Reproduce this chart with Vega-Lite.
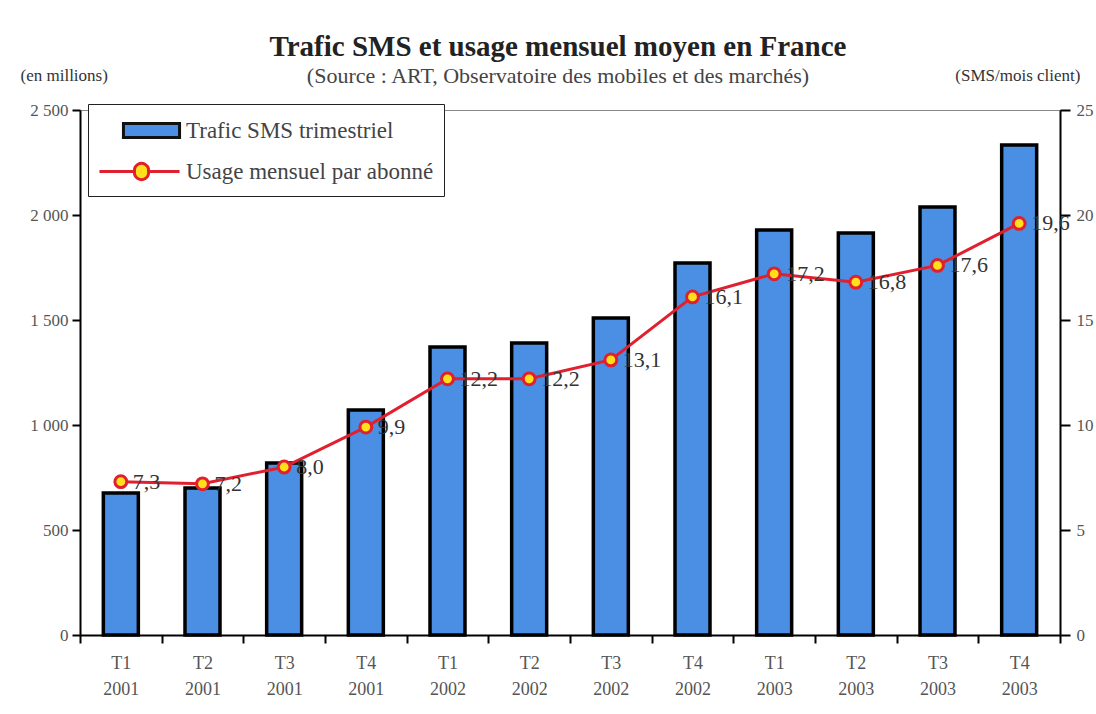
{
  "$schema": "https://vega.github.io/schema/vega-lite/v6.json",
  "width": 980,
  "height": 525,
  "autosize": {"type": "none"},
  "padding": {"left": 80, "top": 110, "right": 36, "bottom": 79},
  "background": "white",
  "title": {
    "text": "Trafic SMS et usage mensuel moyen en France",
    "subtitle": "(Source : ART, Observatoire des mobiles et des marchés)",
    "font": "Liberation Serif",
    "fontSize": 29,
    "fontWeight": "bold",
    "color": "#222222",
    "subtitleFont": "Liberation Serif",
    "subtitleFontSize": 22,
    "subtitleColor": "#444444",
    "subtitlePadding": 4,
    "offset": -21,
    "dx": -12,
    "frame": "group",
    "anchor": "middle"
  },
  "config": {
    "locale": {"number": {"decimal": ",", "thousands": " ", "grouping": [3], "currency": ["", " €"]}},
    "view": {"fill": "#edf0f3", "stroke": "#8a8a8a", "strokeWidth": 1}
  },
  "datasets": {
    "main": [
      {"q": "T1 2001", "trafic": 676, "usage": 7.3},
      {"q": "T2 2001", "trafic": 700, "usage": 7.2},
      {"q": "T3 2001", "trafic": 819, "usage": 8.0},
      {"q": "T4 2001", "trafic": 1071, "usage": 9.9},
      {"q": "T1 2002", "trafic": 1371, "usage": 12.2},
      {"q": "T2 2002", "trafic": 1390, "usage": 12.2},
      {"q": "T3 2002", "trafic": 1510, "usage": 13.1},
      {"q": "T4 2002", "trafic": 1771, "usage": 16.1},
      {"q": "T1 2003", "trafic": 1929, "usage": 17.2},
      {"q": "T2 2003", "trafic": 1914, "usage": 16.8},
      {"q": "T3 2003", "trafic": 2038, "usage": 17.6},
      {"q": "T4 2003", "trafic": 2333, "usage": 19.6}
    ],
    "leg": [
      {"serie": "Trafic SMS trimestriel"},
      {"serie": "Usage mensuel par abonné"}
    ]
  },
  "data": {"name": "main"},
  "layer": [
    {
      "mark": {"type": "bar", "size": 35, "fill": "#4a8fe3", "stroke": "black", "strokeWidth": 3.5},
      "encoding": {
        "x": {
          "field": "q",
          "type": "nominal",
          "sort": null,
          "scale": {"paddingInner": 0, "paddingOuter": 0},
          "axis": {
            "title": null,
            "labelAngle": 0,
            "labelExpr": "split(datum.label, ' ')",
            "labelFont": "Liberation Serif",
            "labelFontSize": 18,
            "labelColor": "#555555",
            "labelLineHeight": 26,
            "labelPadding": 11,
            "tickBand": "extent",
            "tickColor": "black",
            "tickWidth": 2,
            "tickSize": 8,
            "domainColor": "black",
            "domainWidth": 2,
            "grid": false
          }
        },
        "y": {
          "field": "trafic",
          "type": "quantitative",
          "scale": {"domain": [0, 2500], "nice": false},
          "axis": {
            "title": "(en millions)",
            "titleAngle": 0,
            "titleX": -60,
            "titleY": -35,
            "titleAlign": "left",
            "titleBaseline": "middle",
            "titleFont": "Liberation Serif",
            "titleFontSize": 17,
            "titleFontWeight": "normal",
            "titleColor": "#333333",
            "values": [0, 500, 1000, 1500, 2000, 2500],
            "format": ",.0f",
            "labelFont": "Liberation Serif",
            "labelFontSize": 17,
            "labelColor": "#555555",
            "labelPadding": 4,
            "domainColor": "black",
            "domainWidth": 2,
            "tickColor": "black",
            "tickWidth": 2,
            "tickSize": 8,
            "grid": false
          }
        }
      }
    },
    {
      "encoding": {
        "x": {"field": "q", "type": "nominal", "sort": null},
        "y": {
          "field": "usage",
          "type": "quantitative",
          "scale": {"domain": [0, 25], "nice": false},
          "axis": {
            "orient": "right",
            "title": "(SMS/mois client)",
            "titleAngle": 0,
            "titleX": 20,
            "titleY": -35,
            "titleAlign": "right",
            "titleBaseline": "middle",
            "titleFont": "Liberation Serif",
            "titleFontSize": 17,
            "titleFontWeight": "normal",
            "titleColor": "#333333",
            "values": [0, 5, 10, 15, 20, 25],
            "labelFont": "Liberation Serif",
            "labelFontSize": 17,
            "labelColor": "#555555",
            "labelPadding": 6,
            "domainColor": "black",
            "domainWidth": 2,
            "tickColor": "black",
            "tickWidth": 2,
            "tickSize": 10,
            "grid": false
          }
        }
      },
      "layer": [
        {
          "mark": {"type": "line", "strokeWidth": 3, "color": "#e0202e"}
        },
        {
          "mark": {"type": "point", "filled": true, "fill": "#ffe01a", "stroke": "#e0202e", "strokeWidth": 3, "size": 140, "opacity": 1}
        },
        {
          "mark": {"type": "text", "align": "left", "baseline": "middle", "dx": 12, "font": "Liberation Serif", "fontSize": 22, "color": "#333333"},
          "encoding": {"text": {"field": "usage", "type": "quantitative", "format": ".1f"}}
        }
      ]
    },
    {
      "data": {"name": "leg"},
      "mark": {"type": "point", "filled": true, "opacity": 0, "strokeWidth": 3},
      "encoding": {
        "fill": {
          "field": "serie",
          "type": "nominal",
          "sort": null,
          "scale": {"domain": ["Trafic SMS trimestriel", "Usage mensuel par abonné"], "range": ["#4a8fe3", "#ffe01a"]},
          "legend": {
            "title": null,
            "orient": "none",
            "legendX": 8,
            "legendY": -6,
            "direction": "vertical",
            "fillColor": "white",
            "strokeColor": "#222222",
            "padding": 10,
            "labelFont": "Liberation Serif",
            "labelFontSize": 23,
            "labelColor": "#444444",
            "labelLimit": 400,
            "labelOffset": 18,
            "symbolOffset": 37,
            "symbolSize": 900,
            "symbolStrokeWidth": 3,
            "symbolOpacity": 1,
            "rowPadding": 11
          }
        },
        "stroke": {
          "field": "serie",
          "type": "nominal",
          "sort": null,
          "scale": {"domain": ["Trafic SMS trimestriel", "Usage mensuel par abonné"], "range": ["#111111", "#e0202e"]},
          "legend": {
            "title": null,
            "orient": "none",
            "legendX": 8,
            "legendY": -6,
            "direction": "vertical",
            "fillColor": "white",
            "strokeColor": "#222222",
            "padding": 10,
            "labelFont": "Liberation Serif",
            "labelFontSize": 23,
            "labelColor": "#444444",
            "labelLimit": 400,
            "labelOffset": 18,
            "symbolOffset": 37,
            "symbolSize": 900,
            "symbolStrokeWidth": 3,
            "symbolOpacity": 1,
            "rowPadding": 11
          }
        },
        "shape": {
          "field": "serie",
          "type": "nominal",
          "sort": null,
          "scale": {
            "domain": ["Trafic SMS trimestriel", "Usage mensuel par abonné"],
            "range": ["M-1.87,-0.47H1.87V0.47H-1.87Z", "M-3.47,0H-1.13M-0.2,0H1.87M-1.13,0A0.47,0.47 0 1,0 -0.2,0A0.47,0.47 0 1,0 -1.13,0Z"]
          },
          "legend": {
            "title": null,
            "orient": "none",
            "legendX": 8,
            "legendY": -6,
            "direction": "vertical",
            "fillColor": "white",
            "strokeColor": "#222222",
            "padding": 10,
            "labelFont": "Liberation Serif",
            "labelFontSize": 23,
            "labelColor": "#444444",
            "labelLimit": 400,
            "labelOffset": 18,
            "symbolOffset": 37,
            "symbolSize": 900,
            "symbolStrokeWidth": 3,
            "symbolOpacity": 1,
            "rowPadding": 11
          }
        }
      }
    }
  ],
  "resolve": {"scale": {"y": "independent"}}
}
